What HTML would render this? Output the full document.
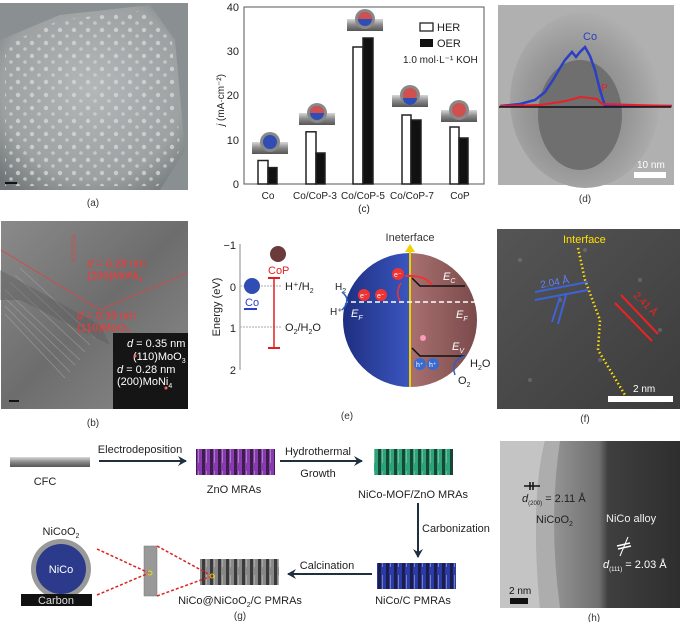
<!DOCTYPE html>
<html><head><meta charset="utf-8"><style>
body{margin:0;background:#fff;}
svg{display:block;font-family:"Liberation Sans",Arial,sans-serif;}
</style></head><body>
<svg width="680" height="622" viewBox="0 0 680 622" xmlns="http://www.w3.org/2000/svg">
<defs>
<radialGradient id="sem" cx="0.5" cy="0.45" r="0.7"><stop offset="0" stop-color="#b4b7b8"/><stop offset="0.7" stop-color="#9da1a2"/><stop offset="1" stop-color="#6f7576"/></radialGradient>
<linearGradient id="tem" x1="0" y1="0" x2="1" y2="1"><stop offset="0" stop-color="#8a8a8a"/><stop offset="0.5" stop-color="#6d6d6d"/><stop offset="1" stop-color="#8c8c8c"/></linearGradient>
<radialGradient id="temd" cx="0.45" cy="0.55" r="0.6"><stop offset="0" stop-color="#7a7a7a"/><stop offset="0.6" stop-color="#999"/><stop offset="1" stop-color="#b4b4b4"/></radialGradient>
<linearGradient id="temf" x1="0" y1="0" x2="1" y2="1"><stop offset="0" stop-color="#555"/><stop offset="1" stop-color="#3c3c3c"/></linearGradient>
<linearGradient id="temh" x1="0" y1="0" x2="1" y2="0"><stop offset="0" stop-color="#b5b5b5"/><stop offset="0.25" stop-color="#9a9a9a"/><stop offset="0.55" stop-color="#707070"/><stop offset="0.6" stop-color="#3f3f3f"/><stop offset="1" stop-color="#2e2e2e"/></linearGradient>
<linearGradient id="bar" x1="0" y1="0" x2="0" y2="1"><stop offset="0" stop-color="#d8d8d8"/><stop offset="0.5" stop-color="#888"/><stop offset="1" stop-color="#555"/></linearGradient>
<linearGradient id="eg" x1="0" y1="0" x2="1" y2="0"><stop offset="0" stop-color="#1e2f80"/><stop offset="1" stop-color="#3b56c0"/></linearGradient>
<linearGradient id="er" x1="0" y1="0" x2="1" y2="0"><stop offset="0" stop-color="#a97070"/><stop offset="1" stop-color="#7a4a4a"/></linearGradient>
<marker id="ar" markerWidth="10" markerHeight="10" refX="8" refY="5" orient="auto" markerUnits="userSpaceOnUse"><path d="M0,0 L9,5 L0,10 L3,5z" fill="#1f2f3f"/></marker>
<pattern id="dots" width="14" height="13" patternUnits="userSpaceOnUse"><circle cx="4" cy="4" r="2.2" fill="#d4d7d7"/><circle cx="11" cy="10" r="1.8" fill="#cdd0d0"/></pattern>
<pattern id="rods" width="8" height="26" patternUnits="userSpaceOnUse"><rect x="2" y="0" width="3" height="26" fill="#111" opacity="0.65"/><rect x="6" y="3" width="1" height="18" fill="#ddd" opacity="0.4"/></pattern>
</defs>

<!-- (a) SEM -->
<rect x="0" y="3" width="188" height="187" fill="#8a9091"/>
<path d="M0,40 L60,15 L150,5 L175,40 L185,150 L160,190 L0,190z" fill="url(#sem)"/>
<path d="M5,45 L60,20 L148,10 L172,42 L180,150 L158,186 L5,186z" fill="url(#dots)" opacity="0.8"/>
<rect x="5" y="182" width="12" height="2" fill="#111"/>
<text x="93" y="206" font-size="10" text-anchor="middle" fill="#333">(a)</text>

<!-- (c) chart -->
<rect x="244" y="7" width="240" height="177" fill="none" stroke="#555" stroke-width="1"/>
<g font-size="11" fill="#222" text-anchor="end">
<text x="239" y="11">40</text><text x="239" y="55">30</text><text x="239" y="99">20</text><text x="239" y="144">10</text><text x="239" y="188">0</text></g>
<text transform="translate(224,100) rotate(-90)" font-size="10" text-anchor="middle" fill="#222"><tspan font-style="italic">j</tspan> (mA·cm⁻²)</text>
<g stroke="#222" stroke-width="1.5">
<rect x="258" y="160.5" width="10" height="23.5" fill="#fff"/><rect x="268" y="167.6" width="9" height="16.4" fill="#111"/>
<rect x="306" y="131.8" width="10" height="52.2" fill="#fff"/><rect x="316" y="153" width="9" height="31" fill="#111"/>
<rect x="353" y="47" width="10" height="137" fill="#fff"/><rect x="363" y="38" width="10" height="146" fill="#111"/>
<rect x="402" y="115" width="9" height="69" fill="#fff"/><rect x="411" y="120" width="10" height="64" fill="#111"/>
<rect x="450" y="127" width="9" height="57" fill="#fff"/><rect x="459" y="138" width="9" height="46" fill="#111"/>
</g>
<g font-size="10" fill="#222" text-anchor="middle">
<text x="268" y="199">Co</text><text x="315" y="199">Co/CoP-3</text><text x="363" y="199">Co/CoP-5</text><text x="412" y="199">Co/CoP-7</text><text x="460" y="199">CoP</text>
<text x="364" y="212">(c)</text></g>
<rect x="420" y="23" width="13" height="8" fill="#fff" stroke="#222" stroke-width="1.3"/><text x="437" y="31" font-size="11" fill="#222">HER</text>
<rect x="420" y="39" width="13" height="8" fill="#111"/><text x="437" y="47" font-size="11" fill="#222">OER</text>
<text x="403" y="63" font-size="10" fill="#222">1.0 mol·L⁻¹ KOH</text>
<g>
<rect x="252" y="142" width="36" height="12" fill="url(#bar)"/><circle cx="270" cy="142" r="10" fill="#888"/><circle cx="270" cy="142" r="7" fill="#2f4db3"/>
<rect x="299" y="113" width="36" height="12" fill="url(#bar)"/><circle cx="317" cy="113" r="10" fill="#888"/><circle cx="317" cy="113" r="7" fill="#2f4db3"/><path d="M310,113 A7,7 0 0 1 324,113z" fill="#d05050"/>
<rect x="347" y="19" width="36" height="12" fill="url(#bar)"/><circle cx="365" cy="19" r="10" fill="#888"/><circle cx="365" cy="19" r="7" fill="#2f4db3"/><path d="M358,19 A7,7 0 0 1 372,19z" fill="#d05050"/>
<rect x="392" y="95" width="36" height="12" fill="url(#bar)"/><circle cx="410" cy="95" r="10" fill="#888"/><circle cx="410" cy="95" r="7" fill="#d05050"/><path d="M403,98 A7,7 0 0 0 417,98z" fill="#2f4db3"/>
<rect x="441" y="110" width="36" height="12" fill="url(#bar)"/><circle cx="459" cy="110" r="10" fill="#888"/><circle cx="459" cy="110" r="7" fill="#d05050"/>
</g>

<!-- (d) TEM -->
<rect x="498" y="5" width="176" height="180" fill="#b0b0b0"/>
<ellipse cx="585" cy="100" rx="75" ry="88" fill="url(#temd)"/>
<ellipse cx="580" cy="115" rx="42" ry="55" fill="#6f6f6f"/>
<polyline points="500,106 520,104 535,100 545,92 553,80 560,68 565,60 572,52 576,57 580,52 585,47 590,56 595,70 600,90 605,106 672,106" fill="none" stroke="#2b3fc4" stroke-width="2.5"/>
<polyline points="500,106 540,105 560,102 570,100 580,97 590,98 597,99 602,104 672,106" fill="none" stroke="#e8202a" stroke-width="2"/>
<line x1="499" y1="107" x2="671" y2="107" stroke="#111" stroke-width="1.5"/>
<text x="583" y="40" font-size="11" fill="#2b3fc4">Co</text><text x="601" y="91" font-size="10" fill="#e8202a">P</text>
<text x="637" y="168" font-size="10" fill="#fff">10 nm</text><rect x="634" y="172" width="32" height="6" fill="#fff"/>
<text x="585" y="202" font-size="10" text-anchor="middle" fill="#333">(d)</text>

<!-- (b) TEM -->
<rect x="1" y="221" width="187" height="188" fill="url(#tem)"/>
<g stroke="#aaa" stroke-width="0.8" opacity="0.6">
<line x1="5" y1="290" x2="80" y2="360"/><line x1="5" y1="298" x2="75" y2="365"/><line x1="5" y1="306" x2="70" y2="372"/><line x1="10" y1="282" x2="85" y2="352"/><line x1="15" y1="275" x2="90" y2="345"/><line x1="5" y1="314" x2="65" y2="378"/><line x1="20" y1="268" x2="95" y2="338"/></g>
<path d="M0,270 L100,325 L110,345 L20,300 L0,300z" fill="#555" opacity="0.35"/>
<polyline points="1,250 100,310 187,273" fill="none" stroke="#d44" stroke-width="0.8"/>
<rect x="72" y="236" width="3" height="25" fill="none" stroke="#d44" stroke-width="0.6"/>
<text x="87" y="267" font-size="11" fill="#f33"><tspan font-style="italic">d</tspan> = 0.28 nm</text>
<text x="87" y="279" font-size="11" fill="#f33">(200)MoNi<tspan font-size="7" dy="3">4</tspan></text>
<text x="77" y="319" font-size="11" fill="#f33"><tspan font-style="italic">d</tspan> = 0.35 nm</text>
<text x="77" y="331" font-size="11" fill="#f33">(110)MoO<tspan font-size="7" dy="3">3</tspan></text>
<rect x="113" y="333" width="75" height="76" fill="#151515"/>
<text x="127" y="347" font-size="11" fill="#fff"><tspan font-style="italic">d</tspan> = 0.35 nm</text>
<text x="133" y="360" font-size="11" fill="#fff">(110)MoO<tspan font-size="7" dy="3">3</tspan></text>
<text x="117" y="373" font-size="11" fill="#fff"><tspan font-style="italic">d</tspan> = 0.28 nm</text>
<text x="117" y="385" font-size="11" fill="#fff">(200)MoNi<tspan font-size="7" dy="3">4</tspan></text>
<circle cx="135" cy="356" r="1.5" fill="#f66"/><circle cx="166" cy="388" r="1.5" fill="#f66"/>
<rect x="9" y="400" width="10" height="2" fill="#111"/>
<text x="93" y="426" font-size="10" text-anchor="middle" fill="#333">(b)</text>

<!-- (e) -->
<line x1="240" y1="244" x2="240" y2="370" stroke="#888" stroke-width="1"/>
<g font-size="11" fill="#222" text-anchor="end"><text x="236" y="249">−1</text><text x="236" y="291">0</text><text x="236" y="332">1</text><text x="236" y="374">2</text></g>
<text transform="translate(220,307) rotate(-90)" font-size="11" text-anchor="middle" fill="#222">Energy (eV)</text>
<line x1="240" y1="286" x2="282" y2="286" stroke="#aab" stroke-width="1" stroke-dasharray="2,1"/>
<line x1="240" y1="327" x2="282" y2="327" stroke="#aab" stroke-width="1" stroke-dasharray="2,1"/>
<circle cx="252" cy="286" r="8" fill="#2f4db3"/><text x="245" y="306" font-size="11" fill="#2b3fc4">Co</text>
<line x1="244" y1="309" x2="257" y2="309" stroke="#2b3fc4" stroke-width="2"/>
<circle cx="278" cy="254" r="8" fill="#6b3a3a"/><text x="268" y="274" font-size="11" fill="#e02020">CoP</text>
<line x1="274" y1="278" x2="274" y2="348" stroke="#e02020" stroke-width="1.5"/><line x1="268" y1="278" x2="280" y2="278" stroke="#e02020" stroke-width="2"/><line x1="268" y1="348" x2="280" y2="348" stroke="#e02020" stroke-width="2"/>
<text x="285" y="290" font-size="11" fill="#222">H⁺/H<tspan font-size="7" dy="3">2</tspan></text>
<text x="285" y="331" font-size="11" fill="#222">O<tspan font-size="7" dy="3">2</tspan><tspan dy="-3">/H</tspan><tspan font-size="7" dy="3">2</tspan><tspan dy="-3">O</tspan></text>
<path d="M410,253 A67,67 0 0 0 410,387z" fill="url(#eg)"/>
<path d="M410,253 A67,67 0 0 1 410,387z" fill="url(#er)"/>
<line x1="410" y1="246" x2="410" y2="387" stroke="#f0d000" stroke-width="2"/><path d="M405,252 L410,244 L415,252z" fill="#f0d000"/>
<text x="410" y="241" font-size="11" text-anchor="middle" fill="#333">Ineterface</text>
<line x1="343" y1="302" x2="477" y2="302" stroke="#fff" stroke-width="1.5" stroke-dasharray="5,3"/>
<polyline points="412,278 420,286 465,286" fill="none" stroke="#111" stroke-width="1.5"/>
<polyline points="412,348 420,356 465,356" fill="none" stroke="#111" stroke-width="1.5"/>
<text x="443" y="280" font-size="11" fill="#fff" font-style="italic">E<tspan font-size="7" dy="3">C</tspan></text>
<text x="456" y="318" font-size="11" fill="#fff" font-style="italic">E<tspan font-size="7" dy="3">F</tspan></text>
<text x="452" y="350" font-size="11" fill="#fff" font-style="italic">E<tspan font-size="7" dy="3">V</tspan></text>
<text x="351" y="317" font-size="11" fill="#fff" font-style="italic">E<tspan font-size="7" dy="3">F</tspan></text>
<circle cx="398" cy="274" r="6" fill="#e33"/><circle cx="364" cy="295" r="6" fill="#e33"/><circle cx="381" cy="295" r="6" fill="#e33"/>
<text x="394" y="277" font-size="7" fill="#fff">e⁻</text><text x="360" y="298" font-size="7" fill="#fff">e⁻</text><text x="377" y="298" font-size="7" fill="#fff">e⁻</text>
<path d="M405,276 Q425,275 432,285" fill="none" stroke="#e33" stroke-width="2"/>
<path d="M401,283 Q395,292 400,301" fill="none" stroke="#e33" stroke-width="1.5"/>
<circle cx="423" cy="338" r="3" fill="#f9b"/>
<circle cx="420" cy="364" r="6" fill="#3a6ad0"/><circle cx="433" cy="364" r="6" fill="#3a6ad0"/>
<text x="416" y="367" font-size="7" fill="#fff">h⁺</text><text x="429" y="367" font-size="7" fill="#fff">h⁺</text>
<text x="335" y="290" font-size="10" fill="#222">H<tspan font-size="7" dy="3">2</tspan></text><text x="330" y="315" font-size="10" fill="#222">H⁺</text>
<path d="M342,292 Q352,300 342,310" fill="none" stroke="#2b5fc4" stroke-width="1.5"/>
<path d="M465,356 Q450,360 455,375" fill="none" stroke="#2b5fc4" stroke-width="1.5"/>
<text x="470" y="367" font-size="11" fill="#222">H<tspan font-size="7" dy="3">2</tspan><tspan dy="-3">O</tspan></text>
<text x="458" y="384" font-size="11" fill="#222">O<tspan font-size="7" dy="3">2</tspan></text>
<text x="347" y="419" font-size="10" text-anchor="middle" fill="#333">(e)</text>

<!-- (f) -->
<rect x="497" y="229" width="183" height="180" fill="url(#temf)"/>
<g fill="#999" opacity="0.35"><circle cx="520" cy="260" r="2"/><circle cx="560" cy="300" r="2"/><circle cx="600" cy="360" r="2"/><circle cx="640" cy="280" r="2"/><circle cx="530" cy="380" r="2"/><circle cx="660" cy="330" r="2"/><circle cx="585" cy="250" r="2"/></g>
<polyline points="578,248 585,280 600,320 598,350 625,395" fill="none" stroke="#ffe000" stroke-width="2.5" stroke-dasharray="1.5,2.5"/>
<text x="563" y="243" font-size="11" fill="#ffe000">Interface</text>
<line x1="535" y1="292" x2="588" y2="282" stroke="#3c63d8" stroke-width="2"/><line x1="535" y1="300" x2="588" y2="290" stroke="#3c63d8" stroke-width="2"/>
<line x1="560" y1="297" x2="552" y2="322" stroke="#3c63d8" stroke-width="2"/><line x1="566" y1="295" x2="558" y2="324" stroke="#3c63d8" stroke-width="2"/>
<text transform="translate(541,288) rotate(-10)" font-size="10" fill="#6080ff">2.04 Å</text>
<line x1="621" y1="295" x2="658" y2="334" stroke="#e22" stroke-width="2"/><line x1="615" y1="303" x2="652" y2="341" stroke="#e22" stroke-width="2"/>
<text transform="translate(633,296) rotate(45)" font-size="10" fill="#e22">2.41 Å</text>
<text x="633" y="392" font-size="10" fill="#fff">2 nm</text><rect x="608" y="396" width="65" height="6" fill="#fff"/>
<text x="585" y="422" font-size="10" text-anchor="middle" fill="#333">(f)</text>

<!-- (g) -->
<rect x="10" y="457" width="80" height="10" fill="url(#bar)"/>
<text x="45" y="485" font-size="11" text-anchor="middle" fill="#222">CFC</text>
<line x1="99" y1="461" x2="186" y2="461" stroke="#1f2f3f" stroke-width="2" marker-end="url(#ar)"/>
<text x="140" y="453" font-size="11" text-anchor="middle" fill="#222">Electrodeposition</text>
<rect x="196" y="449" width="79" height="26" fill="#8a3ab0"/><rect x="196" y="449" width="79" height="26" fill="url(#rods)"/>
<text x="234" y="493" font-size="11" text-anchor="middle" fill="#222">ZnO MRAs</text>
<line x1="280" y1="461" x2="362" y2="461" stroke="#1f2f3f" stroke-width="2" marker-end="url(#ar)"/>
<text x="318" y="455" font-size="11" text-anchor="middle" fill="#222">Hydrothermal</text>
<text x="318" y="477" font-size="11" text-anchor="middle" fill="#222">Growth</text>
<rect x="374" y="449" width="79" height="26" fill="#2aa57a"/><rect x="374" y="449" width="79" height="26" fill="url(#rods)"/>
<text x="413" y="498" font-size="11" text-anchor="middle" fill="#222">NiCo-MOF/ZnO MRAs</text>
<line x1="418" y1="503" x2="418" y2="557" stroke="#1f2f3f" stroke-width="2" marker-end="url(#ar)"/>
<text x="422" y="532" font-size="11" fill="#222">Carbonization</text>
<rect x="377" y="563" width="79" height="26" fill="#2b3aa8"/><rect x="377" y="563" width="79" height="26" fill="url(#rods)"/>
<text x="413" y="604" font-size="11" text-anchor="middle" fill="#222">NiCo/C PMRAs</text>
<line x1="372" y1="574" x2="288" y2="574" stroke="#1f2f3f" stroke-width="2" marker-end="url(#ar)"/>
<text x="327" y="569" font-size="11" text-anchor="middle" fill="#222">Calcination</text>
<rect x="200" y="559" width="79" height="26" fill="#888"/><rect x="200" y="559" width="79" height="26" fill="url(#rods)"/>
<text x="240" y="604" font-size="11" text-anchor="middle" fill="#222">NiCo@NiCoO<tspan font-size="7" dy="3">2</tspan><tspan dy="-3">/C PMRAs</tspan></text>
<text x="240" y="619" font-size="10" text-anchor="middle" fill="#333">(g)</text>
<rect x="144" y="546" width="13" height="50" fill="#999" stroke="#777" stroke-width="0.5"/>
<g stroke="#d22" stroke-width="1.5" stroke-dasharray="3,2"><line x1="97" y1="549" x2="149" y2="573"/><line x1="97" y1="595" x2="149" y2="573"/><line x1="157" y1="546" x2="212" y2="576"/><line x1="157" y1="596" x2="212" y2="576"/></g>
<circle cx="150" cy="573" r="2" fill="none" stroke="#ee0" stroke-width="0.8"/><circle cx="212" cy="576" r="2" fill="none" stroke="#ee0" stroke-width="0.8"/>
<circle cx="61" cy="569" r="30" fill="#999"/><circle cx="61" cy="569" r="25" fill="#2b3a8a"/>
<text x="61" y="573" font-size="11" text-anchor="middle" fill="#fff">NiCo</text>
<text x="61" y="535" font-size="11" text-anchor="middle" fill="#222">NiCoO<tspan font-size="7" dy="3">2</tspan></text>
<rect x="21" y="594" width="71" height="12" fill="#111"/>
<text x="56" y="604" font-size="11" text-anchor="middle" fill="#ddd">Carbon</text>

<!-- (h) -->
<rect x="500" y="441" width="180" height="167" fill="url(#temh)"/>
<path d="M500,441 L545,441 Q530,500 540,608 L500,608z" fill="#c4c4c4"/>
<path d="M545,441 L560,441 Q548,520 560,608 L540,608 Q530,500 545,441z" fill="#adadad"/>
<line x1="524" y1="486" x2="540" y2="486" stroke="#111" stroke-width="1.5"/><line x1="530" y1="482" x2="530" y2="490" stroke="#111" stroke-width="1.5"/><line x1="533" y1="482" x2="533" y2="490" stroke="#111" stroke-width="1.5"/>
<text x="522" y="502" font-size="11" fill="#222"><tspan font-style="italic">d</tspan><tspan font-size="6" dy="3">(200)</tspan><tspan dy="-3"> = 2.11 Å</tspan></text>
<text x="536" y="523" font-size="11" fill="#222">NiCoO<tspan font-size="7" dy="3">2</tspan></text>
<text x="606" y="522" font-size="11" fill="#eee">NiCo alloy</text>
<line x1="628" y1="537" x2="620" y2="556" stroke="#fff" stroke-width="1"/><line x1="617" y1="546" x2="630" y2="543" stroke="#fff" stroke-width="1.5"/><line x1="618" y1="549" x2="631" y2="546" stroke="#fff" stroke-width="1.5"/>
<text x="603" y="568" font-size="11" fill="#fff"><tspan font-style="italic">d</tspan><tspan font-size="6" dy="3">(111)</tspan><tspan dy="-3"> = 2.03 Å</tspan></text>
<text x="509" y="594" font-size="10" fill="#111">2 nm</text><rect x="510" y="598" width="18" height="6" fill="#111"/>
<text x="594" y="621" font-size="10" text-anchor="middle" fill="#333">(h)</text>
</svg>
</body></html>
